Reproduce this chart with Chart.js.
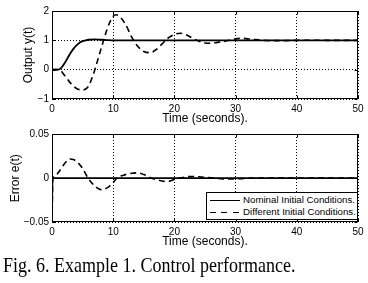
<!DOCTYPE html>
<html><head><meta charset="utf-8">
<script src="https://cdn.jsdelivr.net/npm/chart.js@4/dist/chart.umd.min.js"></script>
<style>
html,body{margin:0;padding:0;background:#fff;width:368px;height:283px;overflow:hidden;position:relative;}
canvas{position:absolute;left:0;}
#c1{top:0;}
#c2{top:125px;}
#legend{position:absolute;left:206px;top:192px;width:150px;height:26px;border:1px solid #000;background:#fff;font-family:"Liberation Sans",Arial,sans-serif;font-size:9.7px;color:#000;}
.row{position:absolute;left:0;right:0;height:10px;line-height:10px;white-space:nowrap;}
.sample{position:absolute;left:3px;width:30px;top:5px;height:1px;background:#000;}
.sample.dash{background:repeating-linear-gradient(to right,#000 0 6px,transparent 6px 11.5px);}
.lbl{position:absolute;left:36px;top:0;}
#caption{position:absolute;left:3px;top:256px;font-family:"Liberation Serif","Times New Roman",serif;font-size:18px;line-height:20px;white-space:nowrap;color:#000;transform:scaleY(1.15);transform-origin:0 16px;}
</style>
</head><body>
<canvas id="c1" width="368" height="128"></canvas>
<canvas id="c2" width="368" height="125"></canvas>
<div id="legend"></div>
<div id="caption"></div>
<script>
// ---- data ----
const seriesNames = ['Nominal Initial Conditions.', 'Different Initial Conditions.'];
const captionText = 'Fig. 6. Example 1. Control performance.';
const xTitle = 'Time (seconds).';
const yTitleOut = 'Output y(t)';
const yTitleErr = 'Error e(t)';
const xTickValues = [0, 10, 20, 30, 40, 50];
const xTickLabels = ['0', '10', '20', '30', '40', '50'];
const yOutTickValues = [-1, 0, 1, 2];
const yOutTickLabels = ['\u22121', '0', '1', '2'];
const yErrTickValues = [-0.05, 0, 0.05];
const yErrTickLabels = ['\u22120.05', '0', '0.05'];

const tOutNom = [0, 1, 1.5, 2, 2.5, 3, 3.5, 4, 4.5, 5, 5.5, 6, 7, 8, 9, 10, 50];
const yOutNom = [0, 0, 0.06, 0.2, 0.38, 0.56, 0.71, 0.83, 0.92, 0.97, 1.0, 1.02, 1.03, 1.02, 1.01, 1.0, 1.0];

const tOutDiff = [0, 1, 1.5, 2, 3, 4, 5, 5.5, 6, 6.5, 7, 7.5, 8, 8.5, 9, 9.5, 10, 10.5, 11, 12, 13, 14, 15, 16, 17, 18, 19, 20, 21, 22, 23, 24, 25, 26, 27, 28, 29, 30, 31, 32, 33, 34, 35, 36, 38, 40, 42, 45, 50];
const yOutDiff = [0, 0, -0.05, -0.18, -0.45, -0.64, -0.69, -0.66, -0.55, -0.3, 0.0, 0.35, 0.7, 1.05, 1.38, 1.64, 1.82, 1.87, 1.82, 1.55, 1.12, 0.8, 0.62, 0.58, 0.68, 0.88, 1.08, 1.2, 1.24, 1.18, 1.07, 0.97, 0.91, 0.9, 0.93, 0.96, 1.0, 1.05, 1.07, 1.05, 1.03, 1.01, 0.995, 0.99, 0.99, 1.0, 1.005, 1.0, 1.0];

const tErrNom = [0, 0.1, 50];
const eErrNom = [-0.05, 0, 0];

const tErrDiff = [0, 0.15, 0.5, 1, 1.5, 2, 2.5, 3, 3.5, 4, 5, 5.9, 7, 8, 9, 10, 10.6, 12, 13, 14, 15, 16.3, 17, 18, 19, 20, 20.8, 22, 23, 24, 26, 28, 29.5, 31, 33, 36, 40, 50];
const eErrDiff = [-0.05, 0, 0.002, 0.006, 0.011, 0.016, 0.02, 0.0217, 0.021, 0.019, 0.011, 0, -0.009, -0.013, -0.011, -0.005, 0, 0.004, 0.0055, 0.006, 0.004, 0, -0.0015, -0.0033, -0.0037, -0.0015, 0, 0.0015, 0.0019, 0.0015, 0.0003, -0.0008, -0.001, -0.0005, 0, 0, 0, 0];

// ---- rendering ----
Chart.defaults.font.family = '"Liberation Sans", Arial, sans-serif';
Chart.defaults.color = '#000';

const pts = (xs, ys) => xs.map((x, i) => ({x: x, y: ys[i]}));

const framePlugin = {
  id: 'frame',
  afterDatasetsDraw(chart) {
    const {ctx, chartArea: a, scales} = chart;
    ctx.save();
    ctx.strokeStyle = '#000';
    ctx.lineWidth = 1;
    ctx.setLineDash([]);
    const L = Math.round(a.left) + 0.5, T = Math.round(a.top) + 0.5;
    const R = Math.round(a.right) - 0.5, B = Math.round(a.bottom) - 0.5;
    ctx.strokeRect(L, T, R - L, B - T);
    const tl = 3;
    ctx.beginPath();
    scales.x.ticks.forEach(t => {
      const p = Math.round(scales.x.getPixelForValue(t.value)) + 0.5;
      ctx.moveTo(p, B); ctx.lineTo(p, B - tl);
      ctx.moveTo(p, T); ctx.lineTo(p, T + tl);
    });
    scales.y.ticks.forEach(t => {
      const p = Math.round(scales.y.getPixelForValue(t.value)) + 0.5;
      ctx.moveTo(L, p); ctx.lineTo(L + tl, p);
      ctx.moveTo(R, p); ctx.lineTo(R - tl, p);
    });
    ctx.stroke();
    ctx.restore();
  }
};

function labelFrom(values, labels) {
  return function (v) {
    for (let i = 0; i < values.length; i++) if (Math.abs(values[i] - v) < 1e-9) return labels[i];
    return '';
  };
}

function makeChart(id, cfg) {
  return new Chart(document.getElementById(id), {
    type: 'line',
    data: {
      datasets: [
        {label: seriesNames[0], data: pts(cfg.tn, cfg.yn), borderColor: '#000', borderWidth: cfg.lwSolid, pointRadius: 0, fill: false, cubicInterpolationMode: 'monotone'},
        {label: seriesNames[1], data: pts(cfg.td, cfg.yd), borderColor: '#000', borderWidth: 1.6, borderDash: [6, 4], pointRadius: 0, fill: false, cubicInterpolationMode: 'monotone'}
      ]
    },
    options: {
      responsive: false, animation: false, devicePixelRatio: 1,
      layout: {padding: {left: 0, right: 10, top: cfg.padTop, bottom: 0}},
      plugins: {legend: {display: false}, tooltip: {enabled: false}},
      scales: {
        x: {
          type: 'linear', min: 0, max: 50,
          ticks: {stepSize: 10, padding: 4, maxRotation: 0, font: {size: 10}, color: '#000', callback: labelFrom(xTickValues, xTickLabels)},
          grid: {color: '#000', lineWidth: 1, drawTicks: false},
          border: {display: false, dash: [1, 2]},
          title: {display: true, text: xTitle, font: {size: 12}, color: '#000', padding: {top: 0, bottom: cfg.xTitlePad}},
          afterFit: s => { s.height = cfg.xHeight; }
        },
        y: {
          type: 'linear', min: cfg.ymin, max: cfg.ymax,
          ticks: {stepSize: cfg.ystep, padding: 3, font: {size: 10}, color: '#000', callback: labelFrom(cfg.yv, cfg.yl)},
          grid: {color: '#000', lineWidth: 1, drawTicks: false},
          border: {display: false, dash: [1, 2]},
          title: {display: true, text: cfg.ytitle, font: {size: 12}, color: '#000', padding: {top: cfg.yTitlePad, bottom: 0}},
          afterFit: s => { s.width = 52; }
        }
      }
    },
    plugins: [framePlugin]
  });
}

makeChart('c1', {tn: tOutNom, yn: yOutNom, td: tOutDiff, yd: yOutDiff, lwSolid: 1.8,
  ymin: -1, ymax: 2, ystep: 1, yv: yOutTickValues, yl: yOutTickLabels, ytitle: yTitleOut,
  padTop: 11, xHeight: 29, xTitlePad: 1.8, yTitlePad: 21.8});
makeChart('c2', {tn: tErrNom, yn: eErrNom, td: tErrDiff, yd: eErrDiff, lwSolid: 1.6,
  ymin: -0.05, ymax: 0.05, ystep: 0.05, yv: yErrTickValues, yl: yErrTickLabels, ytitle: yTitleErr,
  padTop: 7.5, xHeight: 27.7, xTitlePad: 0.8, yTitlePad: 8.8});

// legend (HTML) and caption
const lg = document.getElementById('legend');
seriesNames.forEach((n, i) => {
  const row = document.createElement('div');
  row.className = 'row';
  row.style.top = (2 + i * 11.7) + 'px';
  const s = document.createElement('span');
  s.className = 'sample' + (i === 1 ? ' dash' : '');
  const t = document.createElement('span');
  t.className = 'lbl';
  t.textContent = n;
  row.appendChild(s); row.appendChild(t);
  lg.appendChild(row);
});
document.getElementById('caption').textContent = captionText;
</script>
</body></html>
